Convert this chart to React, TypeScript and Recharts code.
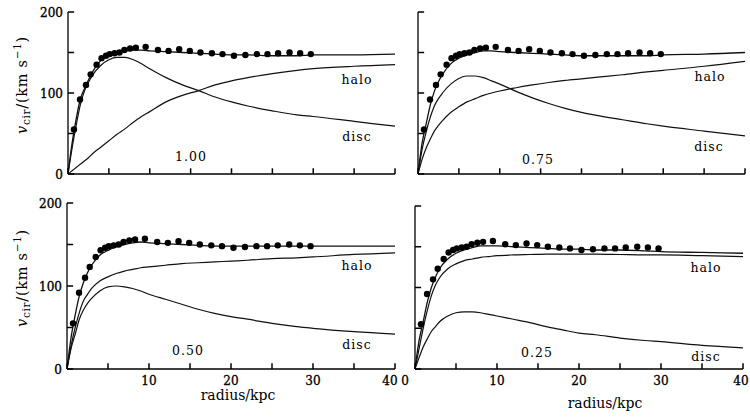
import React from 'react';
import { ComposedChart, Line, Scatter, XAxis, YAxis, ReferenceLine } from 'recharts';

// radius grid (kpc) for the model curves
const radius = [0, 0.5, 1, 1.5, 2, 2.5, 3, 4, 5, 6, 7, 8, 9, 10, 12, 14, 16, 18, 20, 22, 25, 28, 30, 35, 40];

// panel "1.00"
const total100 = [0, 38, 68, 92, 105, 116, 126, 140, 147, 150, 152, 153, 153, 152, 151, 150, 149, 148, 147, 147, 146, 146, 147, 147, 148];
const disc100 = [0, 32, 60, 85, 102, 113, 122, 134, 141, 144, 144, 141, 136, 130, 119, 110, 103, 95, 89, 84, 78, 73, 71, 65, 59];
const halo100 = [0, 4, 8, 12, 16, 20, 25, 33, 41, 49, 56, 64, 71, 77, 89, 97, 103, 110, 115, 119, 124, 128, 130, 133, 135];

// panel "0.75"
const total075 = [0, 38, 62, 85, 102, 114, 123, 136, 143, 147, 150, 152, 152, 151, 150, 149, 148, 147, 146, 146, 146, 146, 147, 148, 150];
const disc075 = [0, 30, 52, 70, 84, 93, 100, 111, 118, 121, 121, 119, 115, 111, 102, 94, 87, 81, 76, 72, 67, 62, 59, 53, 47];
const halo075 = [0, 18, 32, 43, 53, 60, 66, 76, 83, 89, 93, 97, 100, 102.5, 106.5, 110, 113, 115.5, 117.5, 119.5, 122.5, 126, 128, 133, 139];

// panel "0.50"
const total050 = [0, 38, 65, 88, 104, 116, 125, 137, 143, 147, 150, 152, 153, 152, 151, 150, 149, 148, 148, 148, 148, 148, 148, 148, 148];
const disc050 = [0, 25, 42, 60, 71, 79, 85, 94, 99, 100, 99, 97, 94, 90, 84, 78, 72, 67, 63, 60, 55, 51, 49, 45, 42];
const halo050 = [0, 28, 50, 68, 82, 90, 97, 106, 111, 115, 118, 120, 122, 123, 125, 127, 128, 129, 130, 131, 133, 134, 135, 138, 140];

// panel "0.25"
const total025 = [0, 35, 58, 82, 100, 113, 123, 135, 142, 146, 149, 151, 151, 151, 150, 149, 148, 147, 147, 146, 146, 145, 144, 143, 142];
const disc025 = [0, 14, 27, 37, 46, 52, 58, 65, 69, 70, 70, 69, 67, 65, 61, 57, 52, 48, 44, 42, 38, 35, 33.5, 29, 26];
const halo025 = [0, 25, 50, 72, 90, 103, 112, 123, 129, 133, 135, 137, 138, 139, 140, 140.5, 141, 141, 141, 141, 140.5, 140, 140, 139, 138];

// observed rotation curve (same in every panel)
const obsRadius = [0.73, 1.47, 2.2, 2.77, 3.5, 4.1, 4.65, 5.1, 5.7, 6.3, 6.9, 7.6, 8.3, 9.5, 11.0, 12.3, 13.6, 14.9, 16.2, 17.6, 18.9, 20.3, 21.7, 23.1, 24.4, 25.7, 27.1, 28.4, 29.7];
const obsVel = [55, 92, 110, 123, 135, 143, 146, 148, 149, 150, 153, 155, 156, 157, 153, 152, 154, 152, 150, 149, 148, 146, 147, 148, 148, 149, 150, 149, 148];

const xTicks = [0, 5, 10, 15, 20, 25, 30, 35, 40];
const yTicks = [0, 50, 100, 150, 200];
const yLabelTicks = [0, 100, 200];

const FONT = '"DejaVu Serif", "Liberation Serif", serif';
const INK = '#111';
// inward tick lengths in axis units (about 6 px)
const X_TICK_LEN = 0.75; // kpc, for the y-axis ticks
const Y_TICK_LEN = 7; // km/s, for the x-axis ticks

const obs = obsRadius.map((r, i) => ({ r, v: obsVel[i] }));
const buildRows = (t: number[], d: number[], h: number[]) =>
  radius.map((r, i) => ({ r, total: t[i], disc: d[i], halo: h[i] }));

type PanelCfg = {
  key: string;
  left: number;
  top: number;
  width: number;
  height: number;
  yAxisWidth: number;
  marginTop: number;
  marginRight: number;
  xAxisHeight: number;
  showY: boolean;
  xLabels: number[];
  labelShift: Record<number, number>;
  rows: { r: number; total: number; disc: number; halo: number }[];
};

const panels: PanelCfg[] = [
  { key: 'p100', left: 0, top: 0, width: 400, height: 200, yAxisWidth: 68, marginTop: 12, marginRight: 5, xAxisHeight: 26, showY: true, xLabels: [], labelShift: {}, rows: buildRows(total100, disc100, halo100) },
  { key: 'p075', left: 350, top: 0, width: 400, height: 200, yAxisWidth: 68, marginTop: 12, marginRight: 5, xAxisHeight: 26, showY: false, xLabels: [], labelShift: {}, rows: buildRows(total075, disc075, halo075) },
  { key: 'p050', left: 0, top: 190, width: 400, height: 227, yAxisWidth: 67, marginTop: 13, marginRight: 5, xAxisHeight: 48, showY: true, xLabels: [10, 20, 30, 40], labelShift: { 40: -5 }, rows: buildRows(total050, disc050, halo050) },
  { key: 'p025', left: 350, top: 190, width: 400, height: 227, yAxisWidth: 65, marginTop: 16, marginRight: 7, xAxisHeight: 48, showY: false, xLabels: [0, 10, 20, 30, 40], labelShift: { 0: -10, 40: -2 }, rows: buildRows(total025, disc025, halo025) },
];

const makeYTick = (cfg: PanelCfg) => (props: any) => {
  const { y, payload } = props;
  const ax = cfg.yAxisWidth;
  if (!(cfg.showY && yLabelTicks.includes(payload.value))) return <g />;
  return (
    <text x={ax - 5} y={y} dy={5} textAnchor="end" fontFamily={FONT} fontSize={12} fill="#000" stroke="#000" strokeWidth={0.35}>
      {payload.value}
    </text>
  );
};

const makeXTick = (cfg: PanelCfg) => (props: any) => {
  const { x, payload } = props;
  const by = cfg.height - cfg.xAxisHeight;
  if (!cfg.xLabels.includes(payload.value)) return <g />;
  const shift = cfg.labelShift[payload.value] || 0;
  return (
    <text x={x + shift} y={by} dy={15.5} textAnchor="middle" fontFamily={FONT} fontSize={12} fill="#000" stroke="#000" strokeWidth={0.3}>
      {payload.value}
    </text>
  );
};

const dotShape = (p: any) => <circle cx={p.cx} cy={p.cy} r={3.2} fill="#000" />;

const Panel = ({ cfg }: { cfg: PanelCfg }) => (
  <div style={{ position: 'absolute', left: cfg.left, top: cfg.top, width: cfg.width, height: cfg.height }}>
    <ComposedChart
      width={cfg.width}
      height={cfg.height}
      data={cfg.rows}
      margin={{ top: cfg.marginTop, right: cfg.marginRight, left: 0, bottom: 0 }}
    >
      <XAxis
        dataKey="r"
        type="number"
        domain={[0, 40]}
        ticks={xTicks}
        height={cfg.xAxisHeight}
        tickLine={false}
        axisLine={{ stroke: '#000', strokeWidth: 1.3 }}
        tick={makeXTick(cfg)}
        interval={0}
        allowDataOverflow
      />
      <YAxis
        type="number"
        domain={[0, 200]}
        ticks={yTicks}
        width={cfg.yAxisWidth}
        tickLine={false}
        axisLine={{ stroke: '#000', strokeWidth: 1.3 }}
        tick={makeYTick(cfg)}
        interval={0}
        allowDataOverflow
      />
      {yTicks.map((v) => (
        <ReferenceLine
          key={`yt${v}`}
          segment={[{ x: 0, y: v }, { x: X_TICK_LEN, y: v }]}
          stroke="#000"
          strokeWidth={1.5}
          ifOverflow="visible"
        />
      ))}
      {xTicks.map((r) => (
        <ReferenceLine
          key={`xt${r}`}
          segment={[{ x: r, y: 0 }, { x: r, y: Y_TICK_LEN }]}
          stroke="#000"
          strokeWidth={1.5}
          ifOverflow="visible"
        />
      ))}
      <Line dataKey="halo" type="monotone" stroke={INK} strokeWidth={1.2} dot={false} isAnimationActive={false} />
      <Line dataKey="disc" type="monotone" stroke={INK} strokeWidth={1.2} dot={false} isAnimationActive={false} />
      <Line dataKey="total" type="monotone" stroke={INK} strokeWidth={1.3} dot={false} isAnimationActive={false} />
      <Scatter data={obs} dataKey="v" shape={dotShape} isAnimationActive={false} />
    </ComposedChart>
  </div>
);

const annotations = [
  { text: '1.00', x: 191, y: 161 },
  { text: 'halo', x: 357, y: 84 },
  { text: 'disc', x: 357, y: 141 },
  { text: '0.75', x: 538, y: 164 },
  { text: 'halo', x: 710, y: 81 },
  { text: 'disc', x: 709, y: 151 },
  { text: '0.50', x: 188, y: 355 },
  { text: 'halo', x: 357, y: 270 },
  { text: 'disc', x: 357, y: 349 },
  { text: '0.25', x: 537, y: 357 },
  { text: 'halo', x: 706, y: 272 },
  { text: 'disc', x: 706, y: 361 },
];

const YLabel = ({ cx, cy }: { cx: number; cy: number }) => (
  <text transform={`rotate(-90 ${cx} ${cy})`} x={cx} y={cy} textAnchor="middle" fontFamily={FONT} fontSize={14.5} fill="#000" letterSpacing={0.7}>
    <tspan fontStyle="italic">v</tspan>
    <tspan fontSize={10.5} dy={3}>cir</tspan>
    <tspan dy={-3}>/(km s</tspan>
    <tspan fontSize={10.5} dy={-6}>−1</tspan>
    <tspan dy={6}>)</tspan>
  </text>
);

export default function App() {
  return (
    <div style={{ position: 'absolute', left: 0, top: 0, width: 750, height: 417, background: '#fff', overflow: 'hidden' }}>
      {panels.map((p) => (
        <Panel key={p.key} cfg={p} />
      ))}
      <svg width={750} height={417} style={{ position: 'absolute', left: 0, top: 0, pointerEvents: 'none' }}>
        {annotations.map((a, i) => (
          <text key={i} x={a.x} y={a.y} textAnchor="middle" fontFamily={FONT} fontSize={12.5} fill="#000" letterSpacing={1}>
            {a.text}
          </text>
        ))}
        <YLabel cx={27} cy={85} />
        <YLabel cx={27} cy={278} />
        <text x={238} y={400} textAnchor="middle" fontFamily={FONT} fontSize={14} fill="#000">radius/kpc</text>
        <text x={605} y={408} textAnchor="middle" fontFamily={FONT} fontSize={14} fill="#000">radius/kpc</text>
      </svg>
    </div>
  );
}
